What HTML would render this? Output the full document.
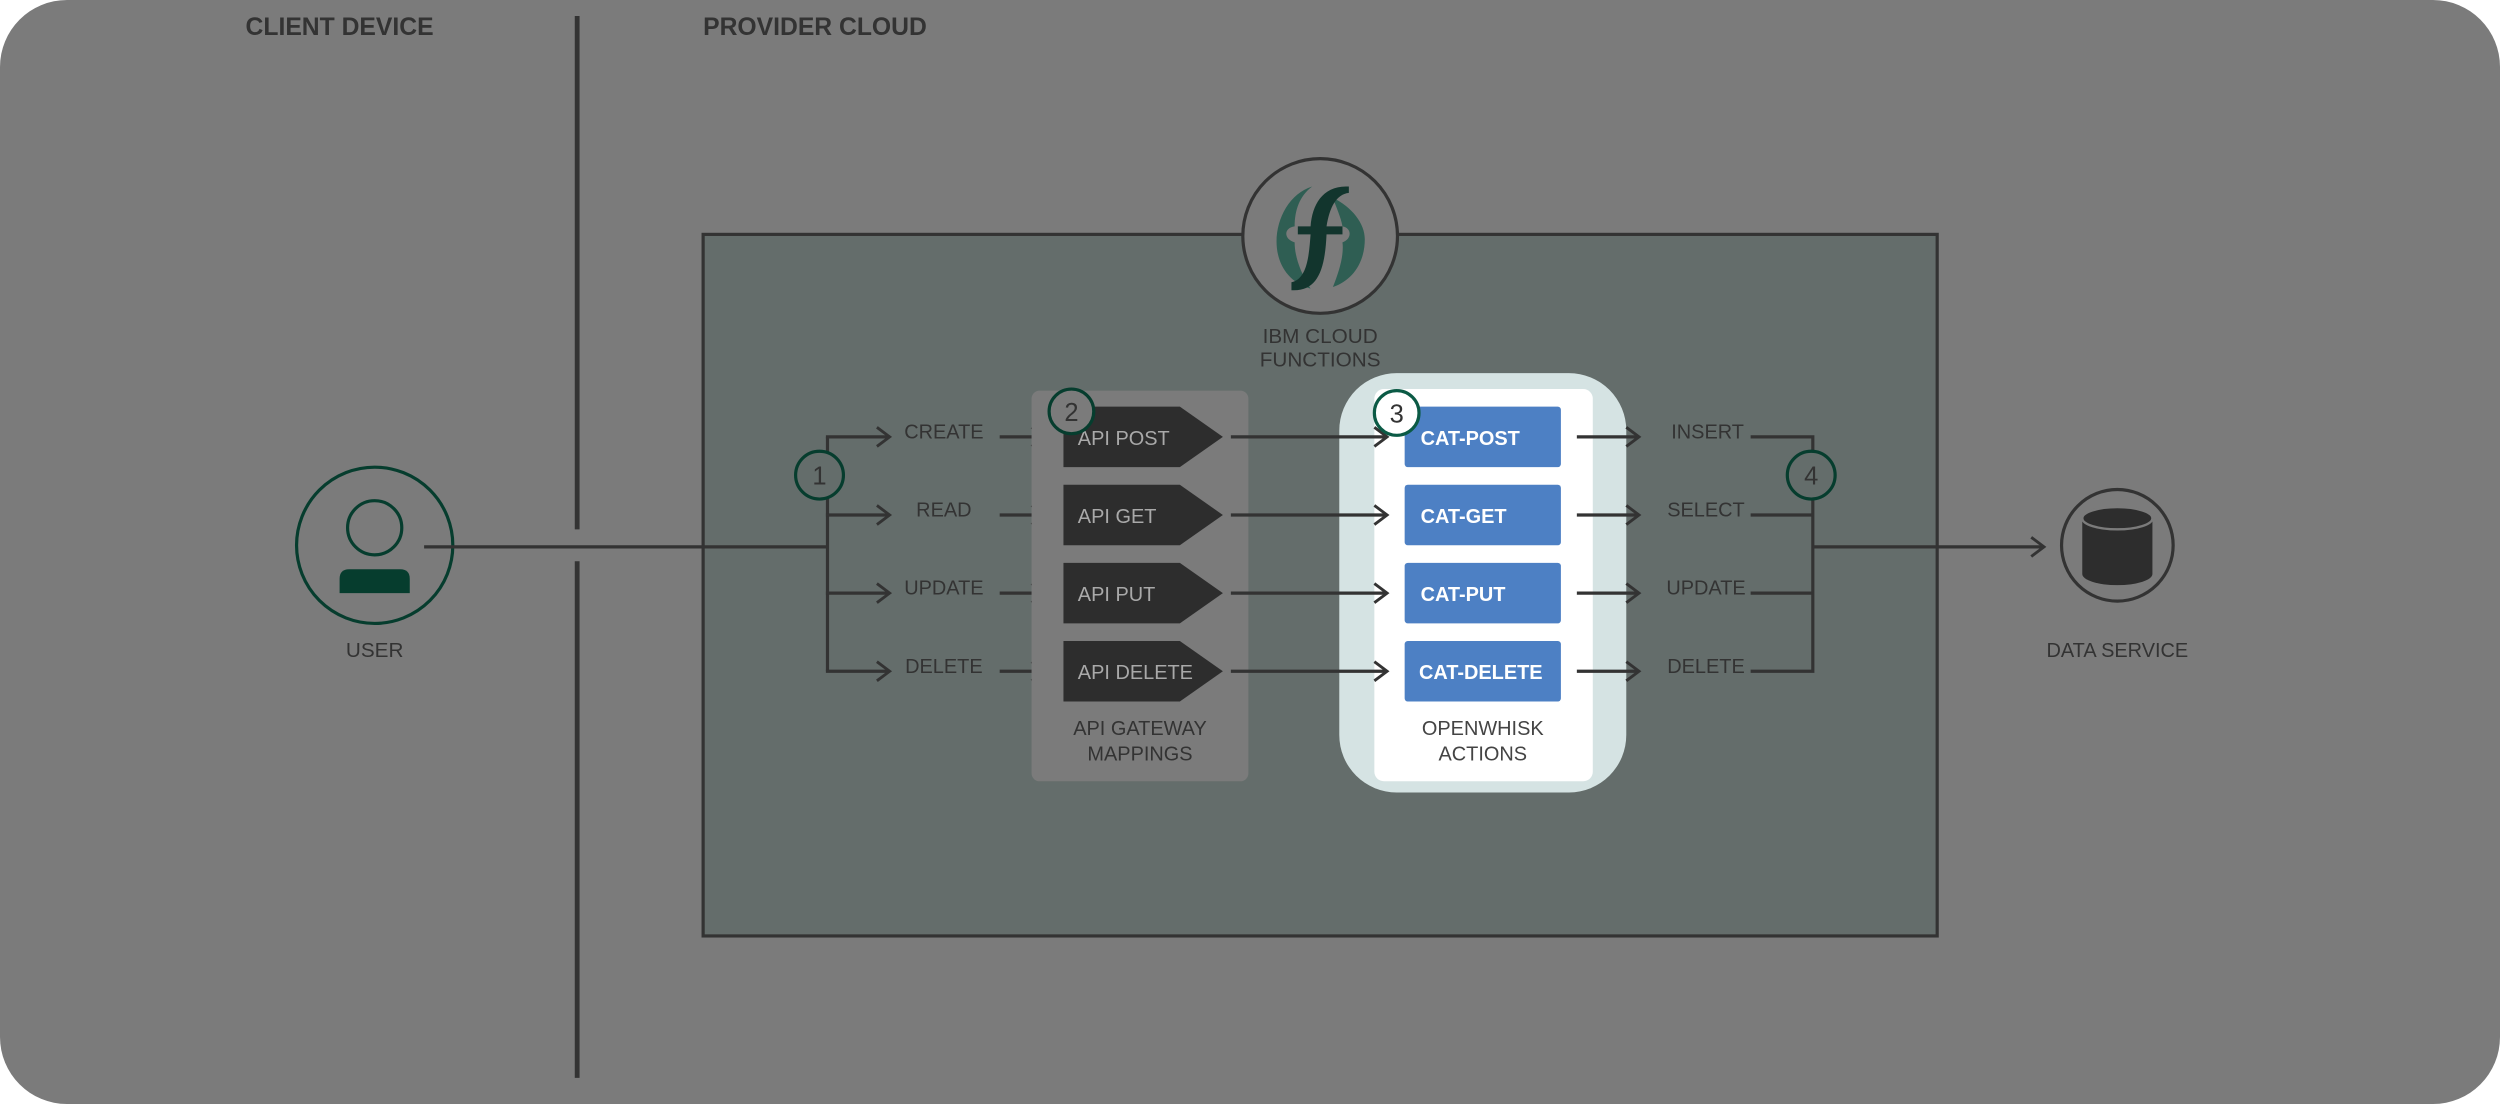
<!DOCTYPE html>
<html><head><meta charset="utf-8"><style>
html,body{margin:0;padding:0;background:#fff;}
svg{display:block;}
text{font-family:"Liberation Sans",Arial,sans-serif;}
</style></head><body>
<svg width="2500" height="1104" viewBox="0 0 1568 692.4" preserveAspectRatio="none" xmlns="http://www.w3.org/2000/svg">
<defs>
<marker id="ar" markerWidth="14" markerHeight="14" refX="12" refY="7" orient="auto" markerUnits="userSpaceOnUse">
<path d="M4,1 L12,7 L4,13" fill="none" stroke="#333" stroke-width="1.8"/>
</marker>
</defs>
<rect x="0" y="0" width="1568" height="692.4" rx="42" fill="#7b7b7b"/>
<text x="154" y="22" font-size="15.5" font-weight="bold" fill="#333">CLIENT DEVICE</text>
<text x="441" y="22" font-size="15.5" font-weight="bold" fill="#333">PROVIDER CLOUD</text>
<line x1="362" y1="10" x2="362" y2="332" stroke="#333" stroke-width="3"/>
<line x1="362" y1="352" x2="362" y2="676" stroke="#333" stroke-width="3"/>
<rect x="441" y="147" width="774" height="440" fill="#646d6b" stroke="#333" stroke-width="2"/>
<!-- IBM circle -->
<circle cx="828" cy="148" r="48.5" fill="#7b7b7b" stroke="#333" stroke-width="2"/>
<path d="M823,117 C797,125 790,172 822,181 C815,170 812,160 812,152 C805,150 805,143 812,142 C812,132 815,123 823,117 Z" fill="#2f5e53"/>
<path d="M836,124 C848,130 856,140 856,150 C856,165 848,176 836,180 C840,170 843,160 842,152 C848,150 848,143 842,142 C841,136 838,130 836,124 Z" fill="#2f5e53"/>
<path d="M846,117 C830,116 823,128 822,142 L814,142 L814,147 L822,147 C821,160 820,175 810,177 L810,182 C826,183 831,170 832,147 L842,147 L842,142 L832,142 C834,130 838,122 846,121 Z" fill="#12352d"/>
<text x="828" y="215" font-size="13" fill="#333" text-anchor="middle">IBM CLOUD</text>
<text x="828" y="230" font-size="13" fill="#333" text-anchor="middle">FUNCTIONS</text>
<!-- user -->
<circle cx="235" cy="342" r="49" fill="none" stroke="#063d2e" stroke-width="2"/>
<circle cx="235" cy="331" r="17" fill="none" stroke="#063d2e" stroke-width="2"/>
<path d="M213,372 L213,363 Q213,357 219,357 L251,357 Q257,357 257,363 L257,372 Z" fill="#063d2e"/>
<text x="235" y="412" font-size="13" fill="#333" text-anchor="middle">USER</text>
<line x1="266" y1="343" x2="519" y2="343" stroke="#333" stroke-width="2"/>
<polyline points="519,274 519,421" fill="none" stroke="#333" stroke-width="2"/>
<g stroke="#333" stroke-width="2" fill="none">
<line x1="518" y1="274" x2="558" y2="274" marker-end="url(#ar)"/>
<line x1="518" y1="323" x2="558" y2="323" marker-end="url(#ar)"/>
<line x1="518" y1="372" x2="558" y2="372" marker-end="url(#ar)"/>
<line x1="518" y1="421" x2="558" y2="421" marker-end="url(#ar)"/>
</g>
<circle cx="514" cy="298" r="15" fill="#646d6b" stroke="#063d2e" stroke-width="2"/>
<text x="514" y="304" font-size="16" fill="#333" text-anchor="middle">1</text>
<g font-size="12.5" fill="#333" text-anchor="middle">
<text x="592" y="275">CREATE</text>
<text x="592" y="324">READ</text>
<text x="592" y="373">UPDATE</text>
<text x="592" y="422">DELETE</text>
</g>
<g stroke="#333" stroke-width="2" fill="none">
<line x1="627" y1="274" x2="655" y2="274" marker-end="url(#ar)"/>
<line x1="627" y1="323" x2="655" y2="323" marker-end="url(#ar)"/>
<line x1="627" y1="372" x2="655" y2="372" marker-end="url(#ar)"/>
<line x1="627" y1="421" x2="655" y2="421" marker-end="url(#ar)"/>
</g>
<rect x="647" y="245" width="136" height="245" rx="5" fill="#7b7b7b"/>
<g fill="#2d2d2d">
<path d="M667,255 L740,255 L767,274 L740,293 L667,293 Z"/>
<path d="M667,304 L740,304 L767,323 L740,342 L667,342 Z"/>
<path d="M667,353 L740,353 L767,372 L740,391 L667,391 Z"/>
<path d="M667,402 L740,402 L767,421 L740,440 L667,440 Z"/>
</g>
<g font-size="12.5" fill="#a9a9a9">
<text x="676" y="279">API POST</text>
<text x="676" y="328">API GET</text>
<text x="676" y="377">API PUT</text>
<text x="676" y="426">API DELETE</text>
</g>
<circle cx="672" cy="258" r="14" fill="#7b7b7b" stroke="#063d2e" stroke-width="2"/>
<text x="672" y="264" font-size="16" fill="#333" text-anchor="middle">2</text>
<text x="715" y="461" font-size="12.5" fill="#333" text-anchor="middle">API GATEWAY</text>
<text x="715" y="477" font-size="12.5" fill="#333" text-anchor="middle">MAPPINGS</text>
<!-- openwhisk -->
<rect x="840" y="234" width="180" height="263" rx="36" fill="#d5e3e3"/>
<rect x="862" y="244" width="137" height="246" rx="6" fill="#fff"/>
<g stroke="#333" stroke-width="2" fill="none">
<line x1="772" y1="274" x2="870" y2="274" marker-end="url(#ar)"/>
<line x1="772" y1="323" x2="870" y2="323" marker-end="url(#ar)"/>
<line x1="772" y1="372" x2="870" y2="372" marker-end="url(#ar)"/>
<line x1="772" y1="421" x2="870" y2="421" marker-end="url(#ar)"/>
</g>
<g fill="#4d80c4">
<rect x="881" y="255" width="98" height="38" rx="2"/>
<rect x="881" y="304" width="98" height="38" rx="2"/>
<rect x="881" y="353" width="98" height="38" rx="2"/>
<rect x="881" y="402" width="98" height="38" rx="2"/>
</g>
<g font-size="12.5" fill="#fff" font-weight="bold">
<text x="891" y="279">CAT-POST</text>
<text x="891" y="328">CAT-GET</text>
<text x="891" y="377">CAT-PUT</text>
<text x="890" y="426">CAT-DELETE</text>
</g>
<circle cx="876" cy="259" r="14" fill="#fff" stroke="#0b5a45" stroke-width="2"/>
<text x="876" y="265" font-size="16" fill="#333" text-anchor="middle">3</text>
<text x="930" y="461" font-size="12.5" fill="#444" text-anchor="middle">OPENWHISK</text>
<text x="930" y="477" font-size="12.5" fill="#444" text-anchor="middle">ACTIONS</text>
<g stroke="#333" stroke-width="2" fill="none">
<line x1="989" y1="274" x2="1028" y2="274" marker-end="url(#ar)"/>
<line x1="989" y1="323" x2="1028" y2="323" marker-end="url(#ar)"/>
<line x1="989" y1="372" x2="1028" y2="372" marker-end="url(#ar)"/>
<line x1="989" y1="421" x2="1028" y2="421" marker-end="url(#ar)"/>
<polyline points="1098,274 1137,274 1137,421 1098,421"/>
<line x1="1098" y1="323" x2="1137" y2="323"/>
<line x1="1098" y1="372" x2="1137" y2="372"/>
<line x1="1137" y1="343" x2="1282" y2="343" marker-end="url(#ar)"/>
</g>
<g font-size="12.5" fill="#333" text-anchor="middle">
<text x="1071" y="275">INSERT</text>
<text x="1070" y="324">SELECT</text>
<text x="1070" y="373">UPDATE</text>
<text x="1070" y="422">DELETE</text>
</g>
<circle cx="1136" cy="298" r="15" fill="#646d6b" stroke="#063d2e" stroke-width="2"/>
<text x="1136" y="304" font-size="16" fill="#333" text-anchor="middle">4</text>
<!-- data service -->
<circle cx="1328" cy="342" r="35" fill="none" stroke="#333" stroke-width="2"/>
<path d="M1306,327 L1306,360 A22,7 0 0 0 1350,360 L1350,327 Z" fill="#2d2d2d"/>
<ellipse cx="1328" cy="325" rx="22" ry="7" fill="#2d2d2d" stroke="#7b7b7b" stroke-width="1.5"/>
<text x="1328" y="412" font-size="12.5" fill="#333" text-anchor="middle">DATA SERVICE</text>
</svg>
</body></html>
